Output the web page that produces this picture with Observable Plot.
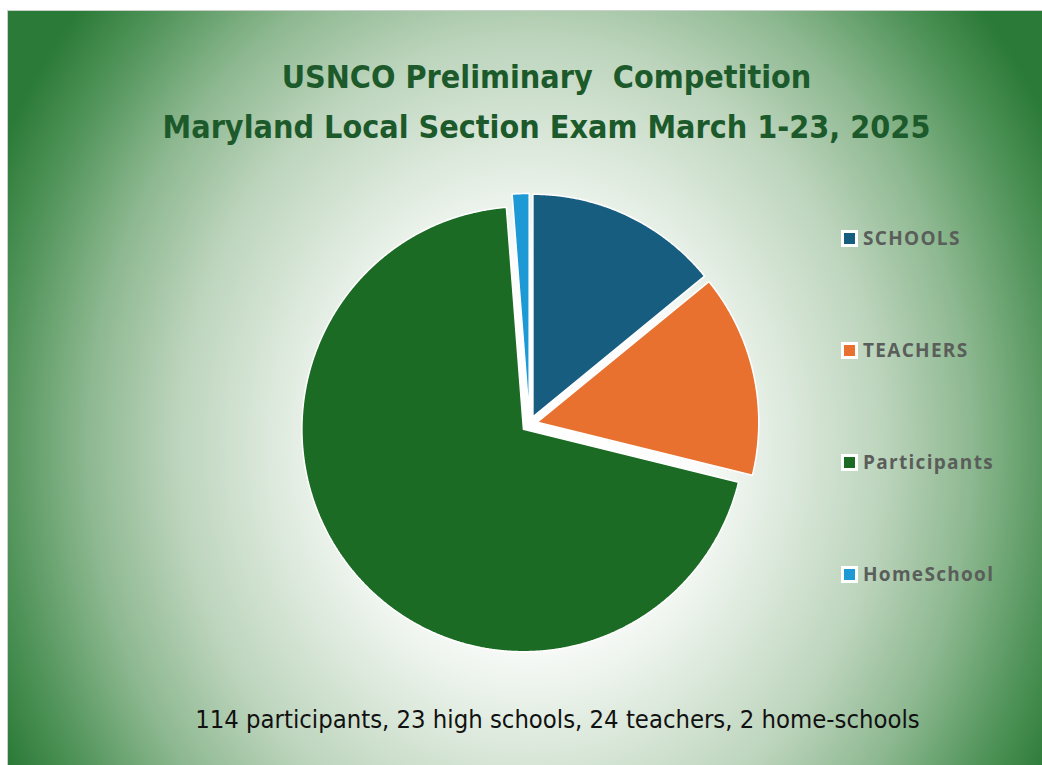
<!DOCTYPE html>
<html>
<head>
<meta charset="utf-8">
<script src="https://cdn.jsdelivr.net/npm/d3@7"></script>
<script src="https://cdn.jsdelivr.net/npm/@observablehq/plot@0.6"></script>
<style>
  html, body { margin: 0; padding: 0; background: #ffffff; width: 1042px; height: 765px; overflow: hidden; }
  #panel {
    position: absolute; left: 7px; top: 10px; width: 1035px; height: 755px;
    border-top: 1px solid #c9cfc9; border-left: 1px solid #c9cfc9;
    background: radial-gradient(ellipse 590px 680px at 522px 435px,
      #ffffff 0%, #fbfcfb 28%, #e4eee4 40%, #bcd4bc 60%, #8db890 75%, #4e9257 90%, #2b7a37 100%);
    overflow: hidden;
  }
  .title {
    position: absolute; left: 0; width: 1077px; text-align: center;
    font-family: "Liberation Sans Narrow", "DejaVu Sans Condensed", sans-serif;
    font-weight: bold; font-size: 32px; color: #1d5a2b; white-space: nowrap;
  }
  #legend { position: absolute; left: 833px; top: 0; }
  .item { position: absolute; left: 0; display: flex; align-items: center; white-space: nowrap; }
  .sw { width: 11px; height: 11px; border: 3px solid #ffffff; }
  .lab { margin-left: 5px; font-family: "Open Sans", sans-serif; font-weight: bold; font-size: 19px;
         color: #5a5e5a; letter-spacing: 1.3px; }
  #caption {
    position: absolute; left: 0; width: 1099px; text-align: center; top: 693px;
    font-family: "Liberation Sans Narrow", "DejaVu Sans Condensed", sans-serif;
    font-size: 25.4px; color: #111; white-space: nowrap;
  }
  #chart { position: absolute; left: 0; top: 0; }
</style>
</head>
<body>
<div id="panel">
  <div class="title" style="top:47px">USNCO Preliminary&nbsp; Competition</div>
  <div class="title" style="top:97px">Maryland&nbsp;Local Section Exam March 1-23, 2025</div>
  <div id="chart"></div>
  <div id="legend"></div>
  <div id="caption">114 participants, 23 high schools, 24 teachers, 2 home-schools</div>
</div>
<script>
// ---- data ----
const categories = ["SCHOOLS", "TEACHERS", "Participants", "HomeSchool"];
const counts = [23, 24, 114, 2];
const colors = ["#175d80", "#e8712f", "#1b6b25", "#1d9ad6"];

// ---- exploded pie, built in unit-radius coordinates ----
const explode = 0.036;   // offset of each slice from the centre (fraction of radius)
const rows = categories.map((name, i) => ({ name, value: counts[i] }));
const arcs = d3.pie().sort(null).value(d => d.value)(rows);
const pts = [];
for (const a of arcs) {
  const mid = (a.startAngle + a.endAngle) / 2;
  const ox = explode * Math.sin(mid), oy = -explode * Math.cos(mid);
  pts.push({ name: a.data.name, x: ox, y: oy });
  const n = Math.max(4, Math.ceil((a.endAngle - a.startAngle) / 0.005));
  for (let k = 0; k <= n; k++) {
    const t = a.startAngle + (a.endAngle - a.startAngle) * k / n;
    pts.push({ name: a.data.name, x: ox + Math.sin(t), y: oy - Math.cos(t) });
  }
  pts.push({ name: a.data.name, x: ox, y: oy });
}

const W = 1035, H = 755;
const cx = 521, cy = 412.5;     // pie centre within the panel (px)
const rx = 221.5, ry = 222.5;   // pixels per unit radius
const chart = Plot.plot({
  width: W, height: H,
  margin: 0,
  style: { background: "transparent", overflow: "visible" },
  x: { domain: [-cx / rx, (W - cx) / rx], range: [0, W], axis: null },
  y: { domain: [-cy / ry, (H - cy) / ry], range: [0, H], axis: null },
  color: { domain: categories, range: colors },
  marks: [
    Plot.line(pts, { x: "x", y: "y", z: "name", fill: "name", stroke: "white", strokeWidth: 1.5, strokeLinejoin: "miter", curve: "linear" })
  ]
});
document.getElementById("chart").appendChild(chart);

// ---- legend ----
const legendY = [226, 338, 450, 562];
const legend = document.getElementById("legend");
categories.forEach((c, i) => {
  const it = document.createElement("div");
  it.className = "item";
  it.style.top = (legendY[i] - 12) + "px";
  it.innerHTML = `<div class="sw" style="background:${colors[i]}"></div><span class="lab">${c}</span>`;
  legend.appendChild(it);
});
</script>
</body>
</html>
